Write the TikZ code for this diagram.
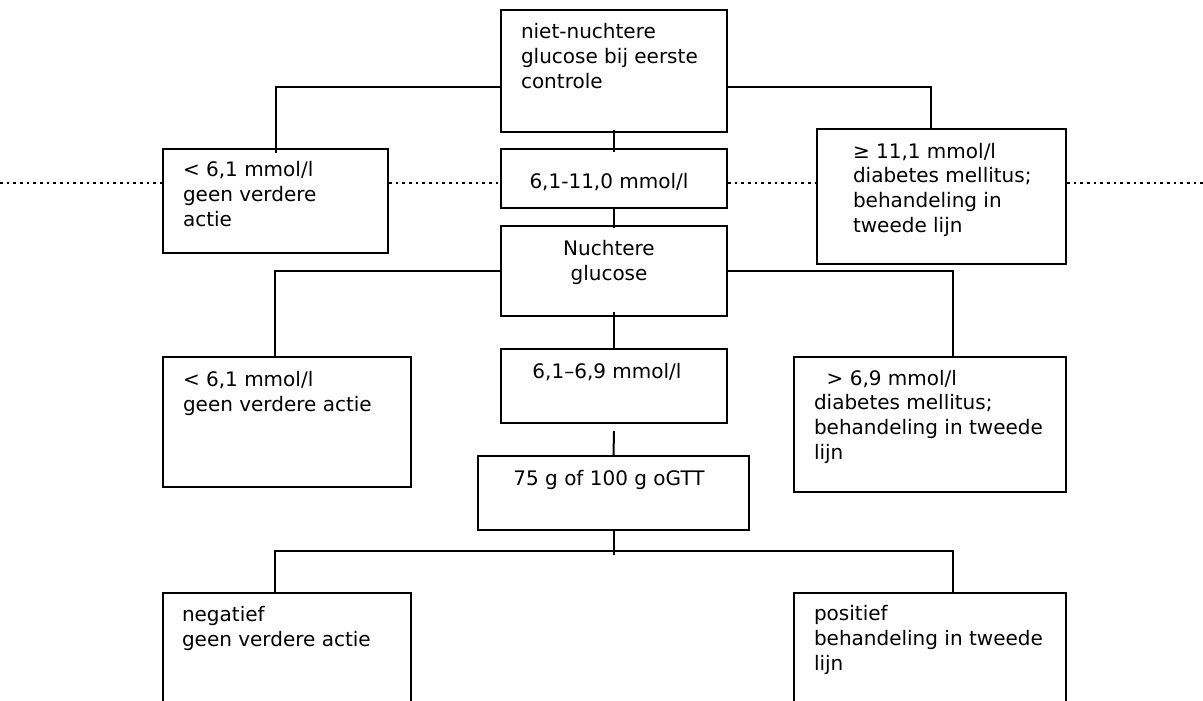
\documentclass[tikz,border=0pt]{standalone}
\usepackage{fontspec}
\setmainfont{DejaVu Sans}
\usepackage{tikz}
\usetikzlibrary{calc}

\newlength\pxu
\setlength\pxu{0.75pt}

\begin{document}
\begin{tikzpicture}[
    x=\pxu, y=-\pxu,
    line width=1.5pt,
    box/.style={draw, anchor=north west, inner sep=0pt},
    % base of a multi-line text is the baseline of its last line
    txt/.style={anchor=base west, align=left, inner sep=0pt, font=\fontsize{15}{18.4}\selectfont},
    ctxt/.style={anchor=base, align=center, inner sep=0pt, font=\fontsize{15}{18.4}\selectfont},
    dots/.style={line width=2.1pt, dash pattern=on 2.1pt off 2.9pt}
]

% Page
\clip (0,0) rectangle (1203,700);

% First check
\node[box, minimum width=226\pxu, minimum height=122\pxu] (A) at (500,9) {};
\node[txt] (A-t) at (520,88) {niet-nuchtere\\glucose bij eerste\\controle};

\node[box, minimum width=225\pxu, minimum height=104\pxu] (B) at (162,148) {};
\node[txt] (B-t) at (182,226) {< 6,1 mmol/l\\geen verdere\\actie};

\node[box, minimum width=226\pxu, minimum height=59\pxu] (C) at (500,148) {};
\node[ctxt] (C-t) at (609,188) {6,1-11,0 mmol/l};

\node[box, minimum width=249\pxu, minimum height=135\pxu] (D) at (816,128) {};
\node[txt] (D-t) at (852,232) {≥ 11,1 mmol/l\\diabetes mellitus;\\behandeling in\\tweede lijn};

% Fasting glucose
\node[box, minimum width=226\pxu, minimum height=90\pxu] (E) at (500,225) {};
\node[ctxt] (E-t) at (609,280) {Nuchtere\\glucose};

\node[box, minimum width=248\pxu, minimum height=130\pxu] (F) at (162,356) {};
\node[txt] (F-t) at (182,411) {< 6,1 mmol/l\\geen verdere actie};

\node[box, minimum width=226\pxu, minimum height=74\pxu] (G) at (500,348) {};
\node[ctxt] (G-t) at (607,378) {6,1–6,9 mmol/l};

\node[box, minimum width=272\pxu, minimum height=135\pxu] (H) at (793,356) {};
\node[txt] (H-t) at (813,459) {\ \ > 6,9 mmol/l\\diabetes mellitus;\\behandeling in tweede\\lijn};

% oGTT
\node[box, minimum width=271\pxu, minimum height=74\pxu] (I) at (477,455) {};
\node[ctxt] (I-t) at (609,485) {75 g of 100 g oGTT};

\node[box, minimum width=248\pxu, minimum height=130\pxu] (J) at (162,592) {};
\node[txt] (J-t) at (181,646) {negatief\\geen verdere actie};

\node[box, minimum width=272\pxu, minimum height=130\pxu] (K) at (793,592) {};
\node[txt] (K-t) at (813,670) {positief\\behandeling in tweede\\lijn};

% Connectors
\draw ($(A.west)+(0,16)$) -| ($(B.north)+(0,5)$);
\draw ($(A.east)+(0,16)$) -| ($(D.north)+(-11,0)$);
\draw ($(A.south)+(0,-3)$) -- ($(C.north)+(0,4)$);
\draw (C.south) -- ($(E.north)+(0,3)$);

\draw (E.west) -| ($(F.north)+(-12,0)$);
\draw (E.east) -| ($(H.north)+(23,0)$);
\draw ($(E.south)+(0,-5)$) -- (G.north);
\draw ($(G.south)+(0,7)$) -- (I.north);

\coordinate (fork) at ($(I.south)+(0,20)$);
\draw (I.south) -- ($(fork)+(0,4)$);
\draw ($(J.north)+(-12,2)$) |- (fork) -| ($(K.north)+(23,2)$);

% Dotted line
\coordinate (dl) at (0,183);
\coordinate (dr) at (1203,183);
\draw[dots] (dl) -- (dl -| B.west);
\draw[dots] (B.east |- dl) -- (C.west |- dl);
\draw[dots] (C.east |- dl) -- (D.west |- dl);
\draw[dots] (D.east |- dl) -- (dr);

\end{tikzpicture}
\end{document}
